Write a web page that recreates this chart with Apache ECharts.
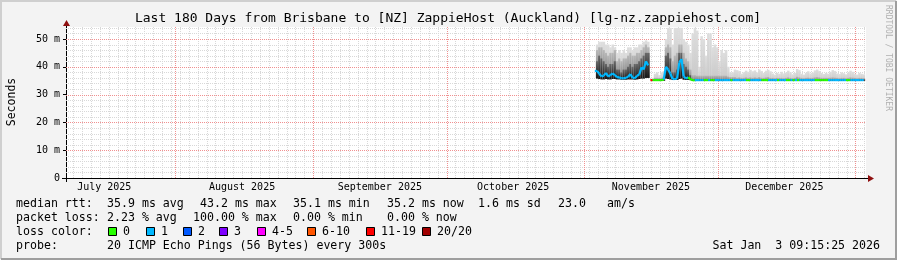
<!DOCTYPE html>
<html><head><meta charset="utf-8">
<script src="https://cdn.jsdelivr.net/npm/echarts@6/dist/echarts.min.js"></script>
<style>html,body{margin:0;padding:0;background:#f3f3f3}#c{width:897px;height:260px}</style>
</head><body><div id="c"></div>
<script>
// ---------- DATA ----------
const titleText = 'Last 180 Days from Brisbane to [NZ] ZappieHost (Auckland) [lg-nz.zappiehost.com]';
// x axis unit: days since 2025-07-01 00:00
const xStart = 6.385, xEnd = 186.385;
const monthStarts = [31, 62, 92, 123, 153, 184];
const monthLabelPos = [15, 46, 77, 107, 138, 168];
const monthLabels = ['July 2025', 'August 2025', 'September 2025', 'October 2025', 'November 2025', 'December 2025'];
const yMax = 54.3;
const yTickValues = [0, 10, 20, 30, 40, 50];
const yTickLabels = ['0', '10 m', '20 m', '30 m', '40 m', '50 m'];
// samples every half day starting here
const dataStart = 125.87, dataStep = 0.5;
const median = [
 38.5,37.5,36.5,36.8,37.8,36.5,37.0,37.6,37.0,36.3,36.2,35.8,35.9,36.0,36.4,37.4,36.0,35.9,36.8,37.2,
 39.8,39.0,42.0,40.5,null,35.2,35.2,35.2,35.2,35.2,35.4,40.0,39.0,37.5,35.6,35.6,35.7,41.5,42.8,36.5,
 35.8,36.2,35.6,35.1,35.2,35.2,35.2,35.2,35.2,35.2,35.2,35.2,35.2,35.2,35.2,35.2,35.2,35.2,35.2,35.2,
 35.2,35.2,35.2,35.2,35.2,35.2,35.2,35.2,35.2,35.2,35.2,35.2,35.2,35.2,35.2,35.2,35.2,35.2,35.2,35.2,
 35.2,35.2,35.2,35.2,35.2,35.2,35.2,35.2,35.2,35.2,35.2,35.2,35.2,35.2,35.2,35.2,35.2,35.2,35.2,35.2,
 35.2,35.2,35.2,35.2,35.2,35.2,35.2,35.2,35.2,35.2,35.2,35.2,35.2,35.2,35.2,35.2,35.2,35.2,35.2,35.2,35.2
];
const lossCount = [
 1,1,1,1,1,1,1,1,1,1,1,1,1,1,1,1,1,1,1,1,
 1,1,1,1,0,15,0,0,0,0,0,1,1,1,1,1,1,1,1,1,
 1,1,0,0,0,1,1,1,1,0,0,1,0,0,1,1,1,1,1,1,
 1,0,1,1,1,1,1,1,0,0,1,1,1,1,1,0,0,0,1,1,
 1,1,0,1,1,1,0,0,1,0,1,0,1,1,1,1,1,1,1,0,
 0,0,0,0,0,1,1,1,1,1,1,1,1,0,0,1,1,1,1,1,1
];
const smokeLo = [
 35.8,35.6,35.5,35.5,35.6,35.5,35.5,35.6,35.6,35.5,35.5,35.4,35.4,35.4,35.5,35.5,35.5,35.4,35.5,35.6,
 35.8,35.8,36.0,36.0,null,35.0,35.0,35.0,35.0,35.0,35.0,35.8,35.6,35.5,35.3,35.3,35.3,35.6,35.8,35.4,
 35.3,35.3,35.2,35.0,35.0,35.0,35.0,35.0,35.0,35.0,35.0,35.0,35.0,35.0,35.0,35.0,35.0,35.0,35.0,35.0,
 35.0,35.0,35.0,35.0,35.0,35.0,35.0,35.0,35.0,35.0,35.0,35.0,35.0,35.0,35.0,35.0,35.0,35.0,35.0,35.0,
 35.0,35.0,35.0,35.0,35.0,35.0,35.0,35.0,35.0,35.0,35.0,35.0,35.0,35.0,35.0,35.0,35.0,35.0,35.0,35.0,
 35.0,35.0,35.0,35.0,35.0,35.0,35.0,35.0,35.0,35.0,35.0,35.0,35.0,35.0,35.0,35.0,35.0,35.0,35.0,35.0,35.0
];
const smokeDark = [
 42,44,43,42,41,40,41,41,42,39,39,38,39,39,40,41,40,41,41,42,
 43,44,45,45,null,35.3,35.4,35.4,35.4,35.4,35.5,44,45,43,38,38,39,45,45,41,
 40,39,37,35.6,35.6,35.6,35.6,35.6,35.6,35.6,35.6,35.6,35.6,35.6,35.6,35.6,35.6,35.6,35.6,35.6,
 35.6,35.6,35.6,35.5,35.5,35.5,35.5,35.5,35.5,35.5,35.5,35.5,35.5,35.5,35.5,35.5,35.5,35.5,35.5,35.5,
 35.5,35.5,35.5,35.5,35.5,35.5,35.5,35.5,35.5,35.5,35.5,35.5,35.5,35.5,35.5,35.5,35.5,35.5,35.5,35.5,
 35.5,35.5,35.5,35.5,35.5,35.5,35.5,35.5,35.5,35.5,35.5,35.5,35.5,35.5,35.5,35.5,35.5,35.5,35.5,35.5,35.5
];
const smokeMid = [
 46,47,47,46,45,44,45,45,46,42,43,42,43,43,44,45,44,44,45,45,
 46,47,48,47,null,35.5,36,36,36,36,36.5,47,48,47,42,44,45,48,48,45,
 43,42,39,37,37,36.8,36.8,36.8,36.8,36.8,36.8,36.8,36.8,36.8,36.8,36.8,36.8,36.8,36.8,36.5,
 36.3,36.3,36.3,36.0,36.2,36.0,36.0,36.2,36.0,36.2,36.0,36.2,36.0,36.3,36.0,36.0,36.2,36.3,36.0,36.0,
 35.9,36.0,36.0,36.0,35.9,36.0,36.2,36.0,35.9,36.0,36.4,36.2,36.0,35.9,36.0,36.1,36.0,36.0,36.2,36.3,
 36.2,36.0,36.0,36.0,36.0,36.1,36.2,36.1,36.0,35.9,36.0,36.0,35.9,36.0,36.2,36.1,36.0,35.9,36.0,36.0,35.9
];
const smokeHi = [
 48,49,49,49,48,48,47,48,47,45,46,45,46,45,47,47,46,47,47,48,
 48,49,49.5,49,null,35.8,37.5,38,37,38,38.5,50,54,54,48,54,54,54,54,50,
 49,48,45,52,54,53,40,51,50,44,52,52,47,48,47,42,46,45,46,40,
 38,38,39,38.8,38.5,37.5,38,38.6,38.2,38.9,38.4,38.7,38,39,38.5,37.8,38.6,38.9,38.4,37.6,
 37.2,37.8,37.5,38.2,37.6,37.9,38.6,38,37.3,37.8,39.2,38.8,37.5,37.2,37.8,38.4,37.6,37.9,38.7,39,
 38.5,37.8,37.4,37.8,37.5,38.2,38.8,38.5,37.6,37.4,38,37.7,37.3,37.9,38.6,38.2,37.5,37.2,37.8,37.5,37.3
];
// legend / statistics text
const lossLabels = ['0', '1', '2', '3', '4-5', '6-10', '11-19', '20/20'];
const lossColors = ['#26ff00', '#00b8ff', '#0059ff', '#7e00ff', '#ff00ff', '#ff5500', '#ff0000', '#a10000'];
const rttStats = ['35.9 ms avg', '43.2 ms max', '35.1 ms min', '35.2 ms now', '1.6 ms sd', '23.0', 'am/s'];
const lossStats = ['2.23 % avg', '100.00 % max', '0.00 % min', '0.00 % now'];
const probeText = '20 ICMP Echo Pings (56 Bytes) every 300s';
const dateText = 'Sat Jan  3 09:15:25 2026';

// ---------- LAYOUT ----------
const MONO = '"DejaVu Sans Mono", "Liberation Mono", monospace';
const GL = 66, GT = 27, GW = 800, GH = 151;
const rttX = [107, 200, 293, 387, 478, 558, 607];
const lossX = [107, 193, 293, 387];
const swatchX = [108, 146, 183, 219, 257, 307, 366, 422];

function lossColor(n) {
  if (n <= 0) return lossColors[0];
  if (n === 1) return lossColors[1];
  if (n === 2) return lossColors[2];
  if (n === 3) return lossColors[3];
  if (n <= 5) return lossColors[4];
  if (n <= 10) return lossColors[5];
  if (n <= 19) return lossColors[6];
  return lossColors[7];
}
const tOf = i => dataStart + i * dataStep;

const smokeData = [], medData = [];
median.forEach((m, i) => {
  if (m == null) return;
  smokeData.push([tOf(i), smokeLo[i], smokeDark[i], smokeMid[i], smokeHi[i]]);
  medData.push([tOf(i), m, lossCount[i], i]);
});

const minorDays = [];
for (let d = 8; d <= 186; d += 2) if (monthStarts.indexOf(d) < 0) minorDays.push([d, 0]);
const minorY = [];
for (let v = 2; v < yMax; v += 2) if (v % 10 !== 0) minorY.push([xStart, v]);
const majorY = yTickValues.filter(v => v > 0).map(v => [xStart, v]);

function vLine(color) {
  return function (params, api) {
    const cs = params.coordSys;
    const x = Math.round(api.coord([api.value(0), 0])[0]) + 0.5;
    return { type: 'line', shape: { x1: x, y1: cs.y, x2: x, y2: cs.y + cs.height },
      style: { stroke: color, lineWidth: 1, lineDash: [1, 1] } };
  };
}
function hLine(color) {
  return function (params, api) {
    const cs = params.coordSys;
    const y = Math.round(api.coord([xStart, api.value(1)])[1]) + 0.5;
    return { type: 'line', shape: { x1: cs.x, y1: y, x2: cs.x + cs.width, y2: y },
      style: { stroke: color, lineWidth: 1, lineDash: [1, 1] } };
  };
}
const grad = (top, bottom) => ({ type: 'linear', x: 0, y: 0, x2: 0, y2: 1,
  colorStops: [{ offset: 0, color: top }, { offset: 1, color: bottom }] });
function renderSmoke(params, api) {
  const t = api.value(0);
  const xa = api.coord([t - dataStep / 2, 0])[0];
  const xb = api.coord([t + dataStep / 2, 0])[0];
  const yLo = api.coord([t, api.value(1)])[1];
  const yD = api.coord([t, api.value(2)])[1];
  const yM = api.coord([t, api.value(3)])[1];
  const yH = api.coord([t, api.value(4)])[1];
  const w = xb - xa + 0.3;
  return { type: 'group', children: [
    { type: 'rect', shape: { x: xa, y: yH, width: w, height: yLo - yH }, style: { fill: grad('#dedede', '#c8c8c8') } },
    { type: 'rect', shape: { x: xa, y: yM, width: w, height: yLo - yM }, style: { fill: grad('#b8b8b8', '#7a7a7a') } },
    { type: 'rect', shape: { x: xa, y: yD, width: w, height: yLo - yD }, style: { fill: grad('#6a6a6a', '#151515') } }
  ] };
}
function renderMedian(params, api) {
  const i = api.value(3);
  const p = api.coord([api.value(0), api.value(1)]);
  let q;
  if (i > 0 && median[i - 1] != null) q = api.coord([tOf(i - 1), median[i - 1]]);
  else q = [p[0] - api.size([dataStep, 0])[0], p[1]];
  return { type: 'polyline', shape: { points: [q, p] },
    style: { stroke: lossColor(api.value(2)), lineWidth: 2.2, fill: null } };
}

const txt = (x, y, text, opts) => Object.assign({ type: 'text', x: x, y: y, silent: true,
  style: Object.assign({ text: text, fill: '#000', font: '11.6px ' + MONO, align: 'left', verticalAlign: 'middle' }, opts || {}) });

const graphics = [];
// frame
graphics.push({ type: 'polyline', silent: true, shape: { points: [[1, 259], [1, 1], [896, 1]] }, style: { stroke: '#cfcfcf', lineWidth: 2, fill: null } });
graphics.push({ type: 'polyline', silent: true, shape: { points: [[1, 259], [896, 259], [896, 1]] }, style: { stroke: '#9e9e9e', lineWidth: 2, fill: null } });
// title
graphics.push(txt(448, 19, titleText, { font: '13px ' + MONO, align: 'center' }));
// side texts
graphics.push(txt(12, 102, 'Seconds', { font: '11.5px ' + MONO, align: 'center' }));
graphics[graphics.length - 1].rotation = Math.PI / 2;
graphics.push(txt(888, 5, 'RRDTOOL / TOBI OETIKER', { font: '8px ' + MONO, fill: '#b0b0b0' }));
graphics[graphics.length - 1].rotation = -Math.PI / 2;
// axis lines + arrows
graphics.push({ type: 'line', silent: true, shape: { x1: GL + 0.5, y1: GT + GH + 4, x2: GL + 0.5, y2: GT - 4 }, style: { stroke: '#000', lineWidth: 1 } });
graphics.push({ type: 'line', silent: true, shape: { x1: GL - 4, y1: GT + GH + 0.5, x2: GL + GW + 4, y2: GT + GH + 0.5 }, style: { stroke: '#000', lineWidth: 1 } });
graphics.push({ type: 'polygon', silent: true, shape: { points: [[GL - 3, GT - 1], [GL + 4, GT - 1], [GL + 0.5, GT - 7]] }, style: { fill: '#8f1010' } });
graphics.push({ type: 'polygon', silent: true, shape: { points: [[GL + GW + 2, GT + GH - 3], [GL + GW + 2, GT + GH + 4], [GL + GW + 8, GT + GH + 0.5]] }, style: { fill: '#8f1010' } });
// legend rows
const rowY = [204, 218, 232, 246];
graphics.push(txt(16, rowY[0], 'median rtt:'));
rttStats.forEach((s, k) => graphics.push(txt(rttX[k], rowY[0], s)));
graphics.push(txt(16, rowY[1], 'packet loss:'));
lossStats.forEach((s, k) => graphics.push(txt(lossX[k], rowY[1], s)));
graphics.push(txt(16, rowY[2], 'loss color:'));
lossLabels.forEach((s, k) => {
  graphics.push({ type: 'rect', silent: true, shape: { x: swatchX[k] + 0.5, y: rowY[2] - 4.5, width: 8, height: 8 }, style: { fill: lossColors[k], stroke: '#000', lineWidth: 1 } });
  graphics.push(txt(swatchX[k] + 15, rowY[2], s));
});
graphics.push(txt(16, rowY[3], 'probe:'));
graphics.push(txt(107, rowY[3], probeText));
graphics.push(txt(880, rowY[3], dateText, { align: 'right' }));

const option = {
  animation: false,
  backgroundColor: '#f3f3f3',
  grid: { left: GL, top: GT, width: GW, height: GH, show: true, backgroundColor: '#ffffff', borderWidth: 0 },
  xAxis: {
    type: 'value', min: xStart, max: xEnd,
    axisLine: { show: false }, axisTick: { show: false }, splitLine: { show: false },
    axisLabel: {
      customValues: monthLabelPos, margin: 4, color: '#000', fontFamily: MONO, fontSize: 10,
      formatter: v => { const k = monthLabelPos.indexOf(Math.round(v)); return k >= 0 ? monthLabels[k] : ''; }
    }
  },
  yAxis: {
    type: 'value', min: 0, max: yMax,
    axisLine: { show: false }, splitLine: { show: false },
    axisTick: { show: true, customValues: yTickValues, length: 3, lineStyle: { color: '#000' } },
    axisLabel: {
      customValues: yTickValues, margin: 6, color: '#000', fontFamily: MONO, fontSize: 10,
      formatter: v => { const k = yTickValues.indexOf(Math.round(v)); return k >= 0 ? yTickLabels[k] : ''; }
    }
  },
  series: [
    { type: 'custom', name: 'minorV', data: minorDays, renderItem: vLine('#d8d8d8'), silent: true, z: 1 },
    { type: 'custom', name: 'minorH', data: minorY, renderItem: hLine('#d8d8d8'), silent: true, z: 1 },
    { type: 'custom', name: 'majorV', data: monthStarts.map(d => [d, 0]), renderItem: vLine('#f09090'), silent: true, z: 2 },
    { type: 'custom', name: 'majorH', data: majorY, renderItem: hLine('#f09090'), silent: true, z: 2 },
    { type: 'custom', name: 'smoke', data: smokeData, renderItem: renderSmoke, silent: true, z: 3, encode: { x: 0, y: [1, 4] } },
    { type: 'custom', name: 'median', data: medData, renderItem: renderMedian, silent: true, z: 4, encode: { x: 0, y: 1 } }
  ],
  graphic: graphics
};
const chart = echarts.init(document.getElementById('c'));
chart.setOption(option);
</script>
</body></html>
